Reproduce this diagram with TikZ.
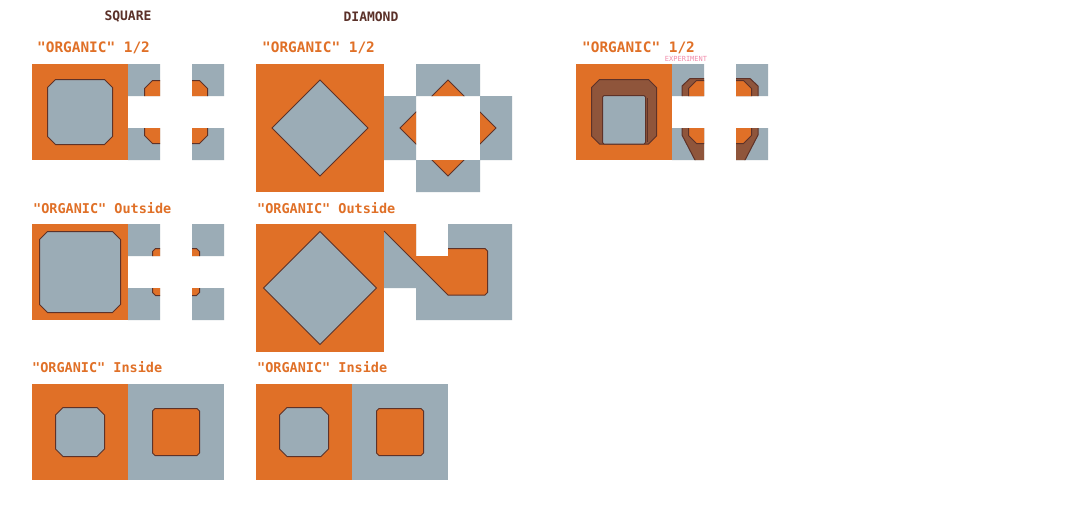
\documentclass[tikz,border=0pt]{standalone}
\usepackage{fontspec}
\newfontfamily\pixfont{DejaVu Sans Mono}
\definecolor{org}{HTML}{E07027}
\definecolor{gry}{HTML}{9BACB6}
\definecolor{olc}{HTML}{5E3228}
\definecolor{brn}{HTML}{8F553B}
\definecolor{ttl}{HTML}{5B3129}
\definecolor{pnk}{HTML}{F28BAA}
\newcommand{\octpath}[5]{({#1+#5},{#2}) -- ({#3-#5},{#2}) -- ({#3},{#2+#5}) -- ({#3},{#4-#5}) -- ({#3-#5},{#4}) -- ({#1+#5},{#4}) -- ({#1},{#4-#5}) -- ({#1},{#2+#5}) -- cycle}
\tikzset{
  lab/.style={anchor=base west, inner sep=0pt, text=org, font=\pixfont\bfseries\fontsize{13.5}{14}\selectfont},
  labwide/.style={lab, font=\pixfont\bfseries\fontsize{14.4}{15}\selectfont},
  ttlstyle/.style={anchor=base, inner sep=0pt, text=ttl, font=\pixfont\bfseries\fontsize{13}{14}\selectfont},
  expstyle/.style={anchor=base, inner sep=0pt, text=pnk, font=\pixfont\fontsize{7}{8}\selectfont},
  ofill/.style={fill=org},
  gfill/.style={fill=gry},
  gshape/.style={fill=gry, draw=olc, line width=1pt},
  oshape/.style={fill=org, draw=olc, line width=1pt},
  bshape/.style={fill=brn, draw=olc, line width=1pt},
  oline/.style={draw=olc, line width=1pt},
}
\begin{document}
\begin{tikzpicture}[x=1pt,y=-1pt]
\useasboundingbox[fill=white] (0,0) rectangle (1088,512);

% titles
\node[ttlstyle] (tsq) at (128,20.5) {SQUARE};
\node[ttlstyle] (tdm) at (371,21.5) {DIAMOND};

% labels
\node[labwide] (l1) at (37,52) {"ORGANIC" 1/2};
\node[labwide] (l2) at (262,52) {"ORGANIC" 1/2};
\node[labwide] (l3) at (582,52) {"ORGANIC" 1/2};
\node[expstyle] (lexp) at (686,61) {EXPERIMENT};
\node[lab] (l4) at (33,213) {"ORGANIC" Outside};
\node[lab] (l5) at (257,213) {"ORGANIC" Outside};
\node[lab] (l6) at (32,372) {"ORGANIC" Inside};
\node[lab] (l7) at (257,372) {"ORGANIC" Inside};

% ---------- Square 1/2 ----------
\fill[ofill] (32,64) rectangle (128,160);
\path[gshape] \octpath{47.5}{79.5}{112.5}{144.5}{8};
\fill[gfill] (128,64) rectangle (160,96) (192,64) rectangle (224,96)
             (128,128) rectangle (160,160) (192,128) rectangle (224,160);
\begin{scope}
  \clip (128,64) rectangle (160,96) (192,64) rectangle (224,96)
        (128,128) rectangle (160,160) (192,128) rectangle (224,160);
  \path[oshape] \octpath{144.5}{80.5}{207.5}{143.5}{8};
\end{scope}

% ---------- Diamond 1/2 ----------
\fill[ofill] (256,64) rectangle (384,192);
\path[gshape] (320,80) -- (368,128) -- (320,176) -- (272,128) -- cycle;
\fill[gfill] (416,64) rectangle (480,96) (384,96) rectangle (416,160)
             (480,96) rectangle (512,160) (416,160) rectangle (480,192);
\begin{scope}
  \clip (416,64) rectangle (480,96) (384,96) rectangle (416,160)
        (480,96) rectangle (512,160) (416,160) rectangle (480,192);
  \path[oshape] (448,80) -- (496,128) -- (448,176) -- (400,128) -- cycle;
\end{scope}

% ---------- Experiment ----------
\fill[ofill] (576,64) rectangle (672,160);
\path[bshape] \octpath{591.5}{79.5}{656.5}{144}{8};
\path[gshape, rounded corners=1.5pt] (602.5,95.5) rectangle (645.5,144);
\draw[oline] (647.5,98) -- (647.5,142);
\fill[gfill] (672,64) rectangle (704,96) (736,64) rectangle (768,96)
             (672,128) rectangle (704,160) (736,128) rectangle (768,160);
\begin{scope}
  \clip (672,64) rectangle (704,96) (736,64) rectangle (768,96)
        (672,128) rectangle (704,160) (736,128) rectangle (768,160);
  \path[bshape] (690,78.5) -- (750,78.5) -- (758,86) -- (758,135) -- (744,162)
        -- (696,162) -- (682,135) -- (682,86) -- cycle;
  \path[oshape] \octpath{688.5}{80.5}{751.5}{143.5}{8};
\end{scope}

% ---------- Square Outside ----------
\fill[ofill] (32,224) rectangle (128,320);
\path[gshape] \octpath{39.5}{231.5}{120.5}{312.5}{8};
\fill[gfill] (128,224) rectangle (160,256) (192,224) rectangle (224,256)
             (128,288) rectangle (160,320) (192,288) rectangle (224,320);
\begin{scope}
  \clip (128,224) rectangle (160,256) (192,224) rectangle (224,256)
        (128,288) rectangle (160,320) (192,288) rectangle (224,320);
  \path[oshape] \octpath{152.5}{248.5}{199.5}{295.5}{3};
\end{scope}

% ---------- Diamond Outside ----------
\fill[ofill] (256,224) rectangle (384,352);
\path[gshape] (320,231.5) -- (376.5,288) -- (320,344.5) -- (263.5,288) -- cycle;
\fill[gfill] (384,224) rectangle (416,288) (416,256) rectangle (512,320)
             (448,224) rectangle (512,256);
\fill[ofill] (384,224) -- (416,224) -- (416,256) -- (448,256) -- (448,248)
     -- (485,248) -- (487.5,250.5) -- (487.5,292.5) -- (485,295) -- (448,295)
     -- (384,231) -- cycle;
\draw[oline] (448,248.5) -- (485,248.5) -- (487.5,251) -- (487.5,292.5)
     -- (485,295) -- (448,295) -- (384,231);

% ---------- Square Inside ----------
\fill[ofill] (32,384) rectangle (128,480);
\fill[gfill] (128,384) rectangle (224,480);
\path[gshape] \octpath{55.5}{407.5}{104.5}{456.5}{7.5};
\path[oshape] \octpath{152.5}{408.5}{199.5}{455.5}{2.5};

% ---------- Diamond Inside ----------
\fill[ofill] (256,384) rectangle (352,480);
\fill[gfill] (352,384) rectangle (448,480);
\path[gshape] \octpath{279.5}{407.5}{328.5}{456.5}{7.5};
\path[oshape] \octpath{376.5}{408.5}{423.5}{455.5}{2.5};
\end{tikzpicture}
\end{document}
